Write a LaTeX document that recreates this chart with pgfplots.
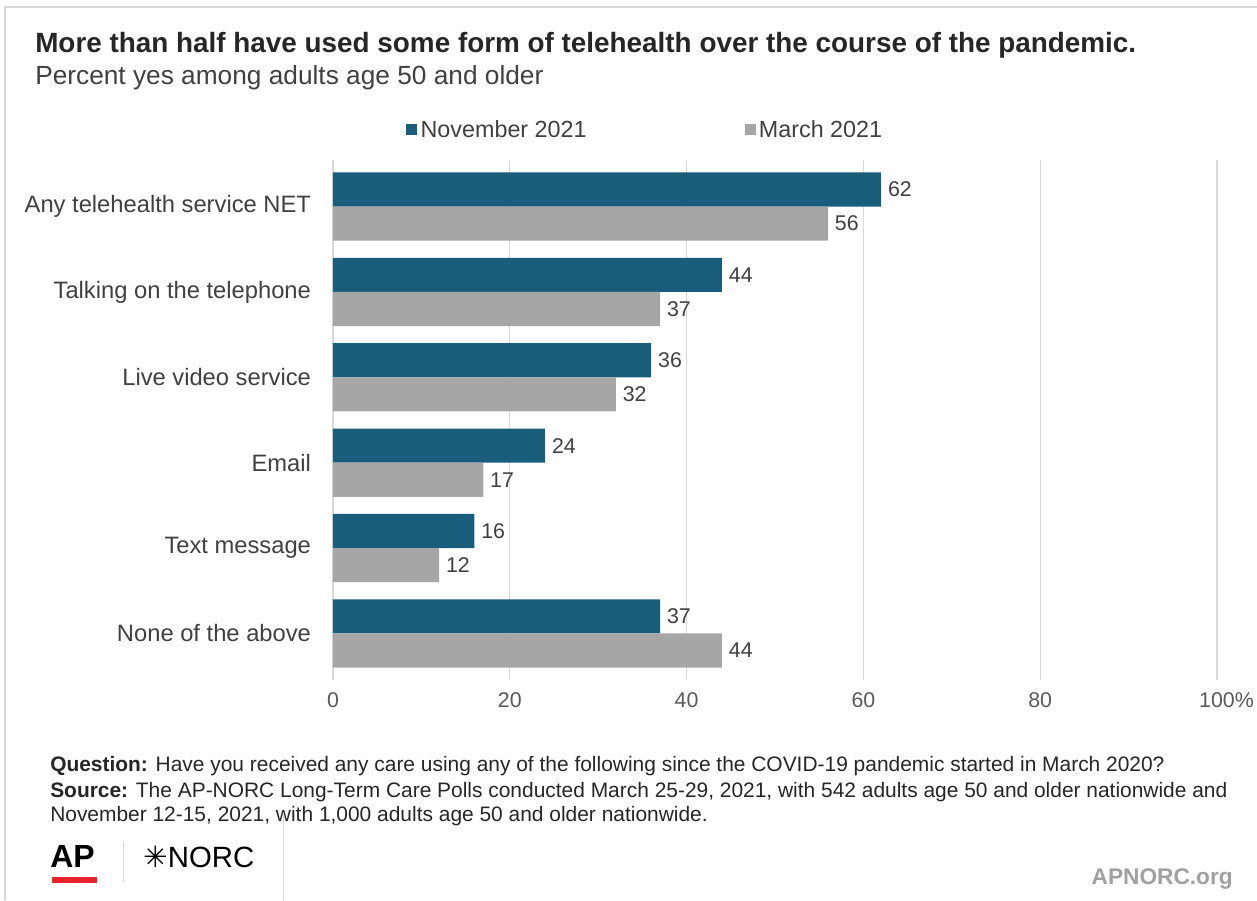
\documentclass[border=0pt]{standalone}
\usepackage{pgfplots}
\pgfplotsset{compat=1.18}
\usepackage{fontspec}
\setmainfont{Liberation Sans}
\newfontfamily\symfont{DejaVu Sans}
\definecolor{nov}{HTML}{1A5C7C}
\definecolor{mar}{HTML}{A6A6A6}
\definecolor{gridc}{HTML}{D9D9D9}
\definecolor{txt}{HTML}{404040}
\definecolor{tick}{HTML}{595959}
\definecolor{dark}{HTML}{262626}
\definecolor{apred}{HTML}{E8232B}
\definecolor{orggray}{HTML}{A0A0A0}
\begin{document}
\begin{tikzpicture}[x=0.75pt,y=0.75pt]
\path[use as bounding box] (0,0) rectangle (1257,900);
% frame
\draw[gridc, line width=1.5pt] (5,0) -- (5,893) -- (1257,893);
\draw[gridc, line width=0.75pt] (283,0) -- (283,85);
\draw[gridc, line width=0.75pt] (123,18) -- (123,58);
% title
\node[anchor=west, inner sep=0, text=dark, font=\bfseries\fontsize{20.9pt}{24pt}\selectfont] at (35,855) {More than half have used some form of telehealth over the course of the pandemic.};
\node[anchor=west, inner sep=0, text=txt, font=\fontsize{19.7pt}{23pt}\selectfont] at (35,822) {Percent yes among adults age 50 and older};
\begin{axis}[
  at={(249.75pt,165pt)}, anchor=south west,
  scale only axis, width=663pt, height=390pt,
  xbar, bar width=0.4,
  xmin=0, xmax=100, ymin=-0.545, ymax=5.545,
  y dir=reverse,
  xtick={0,20,40,60,80,100},
  xticklabels={0,20,40,60,80,100\rlap{\%}},
  ytick={0,1,2,3,4,5},
  yticklabels={Any telehealth service NET, Talking on the telephone, Live video service, Email, Text message, None of the above},
  major tick length=0,
  axis line style={draw=none},
  xmajorgrids, grid style={gridc, line width=1pt},
  xticklabel style={text=tick, font=\fontsize{16pt}{19pt}\selectfont, yshift=-6pt},
  yticklabel style={text=txt, font=\fontsize{17.8pt}{21pt}\selectfont, xshift=-13pt},
  /pgf/number format/assume math mode=true,
  nodes near coords,
  nodes near coords style={text=txt, font=\fontsize{16pt}{19pt}\selectfont, anchor=west, inner sep=5pt},
  legend columns=2,
  legend style={draw=none, at={(0.354,1.058)}, anchor=center, font=\fontsize{17.5pt}{20pt}\selectfont, text=txt,
    /tikz/every even column/.append style={column sep=116pt}, inner sep=0pt,
    nodes={inner sep=2.5pt}},
  legend image code/.code={\fill[#1] (0pt,-4.1pt) rectangle (8.2pt,4.1pt);},
]
\addplot[fill=nov, draw=none, bar shift=-0.2] coordinates {(62,0) (44,1) (36,2) (24,3) (16,4) (37,5)};
\addplot[fill=mar, draw=none, bar shift=0.2] coordinates {(56,0) (37,1) (32,2) (17,3) (12,4) (44,5)};
\legend{November 2021, March 2021}
\end{axis}
% footer
\node[anchor=west, inner sep=0, text=dark, font=\fontsize{15.7pt}{18pt}\selectfont] at (50,134) {\textbf{Question:} Have you received any care using any of the following since the COVID-19 pandemic started in March 2020?};
\node[anchor=west, inner sep=0, text=dark, font=\fontsize{15.7pt}{18pt}\selectfont] at (50,108) {\textbf{Source:} The AP-NORC Long-Term Care Polls conducted March 25-29, 2021, with 542 adults age 50 and older nationwide and};
\node[anchor=west, inner sep=0, text=dark, font=\fontsize{15.7pt}{18pt}\selectfont] at (50,84) {November 12-15, 2021, with 1,000 adults age 50 and older nationwide.};
% logos
\node[anchor=base west, inner sep=0, text=black, font=\bfseries\fontsize{24pt}{26pt}\selectfont] at (50,32) {AP};
\fill[apred] (52,17) rectangle (97,23);
\node[anchor=base west, inner sep=0, text=black, font=\fontsize{22pt}{24pt}\selectfont] at (143,32) {{\symfont ✳}NORC};
\node[anchor=base east, inner sep=0, text=orggray, font=\bfseries\fontsize{17pt}{20pt}\selectfont] at (1233,16) {APNORC.org};
\end{tikzpicture}
\end{document}
